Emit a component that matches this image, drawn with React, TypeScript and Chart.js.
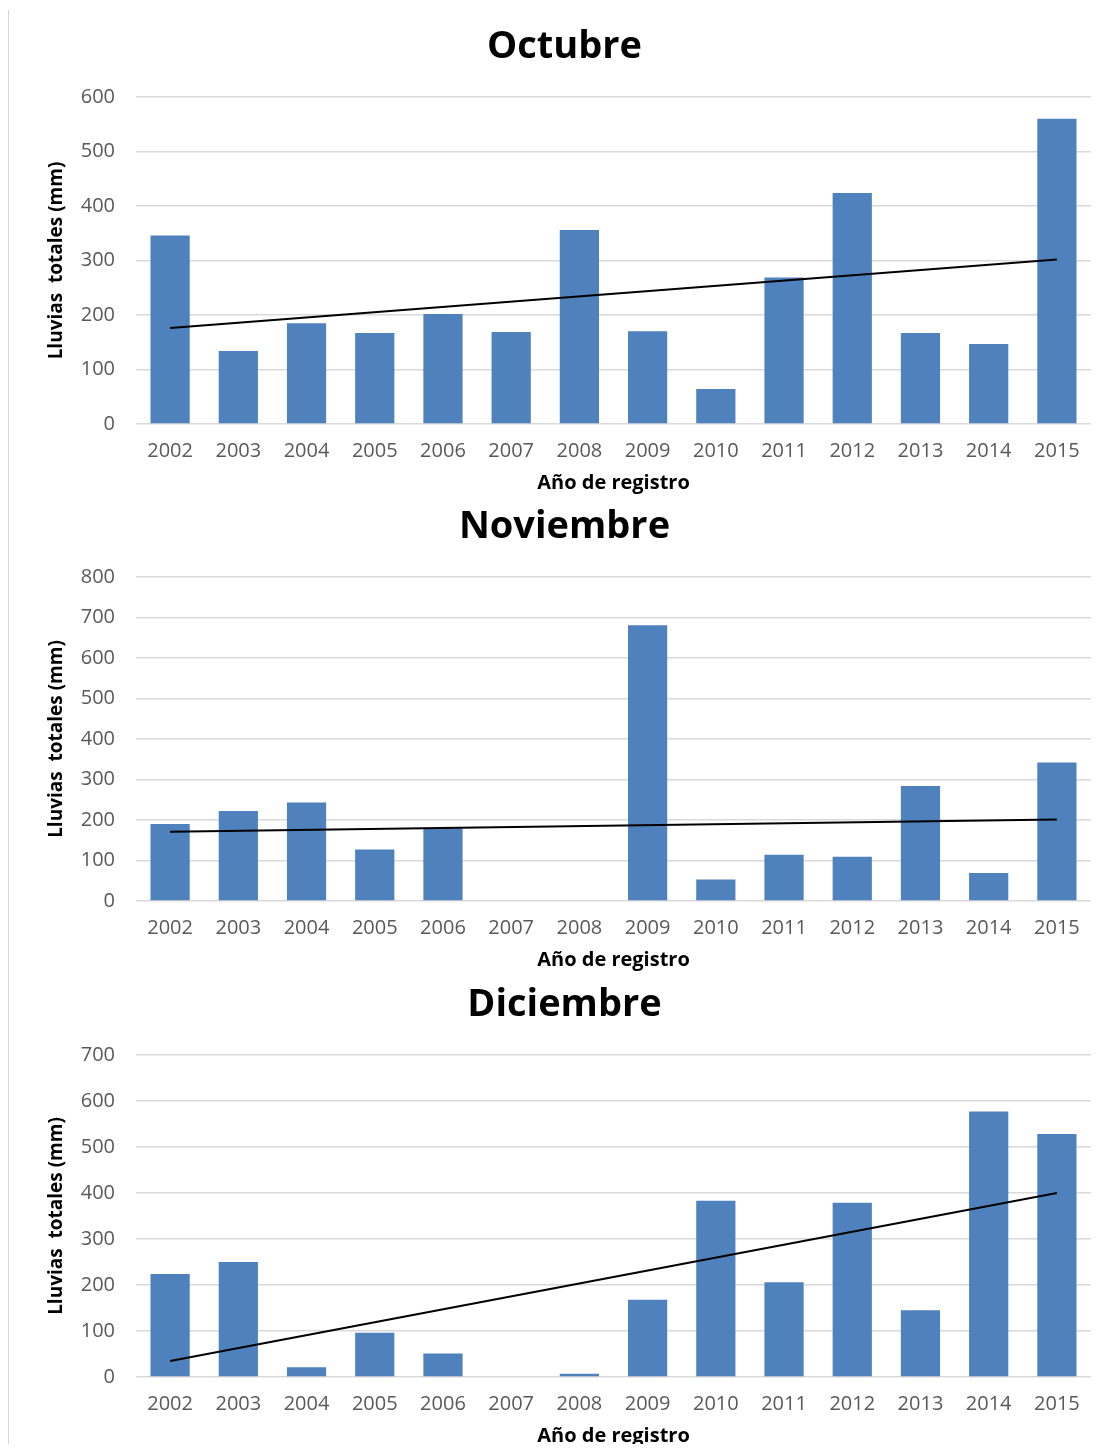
import React, { useEffect, useRef } from "react";
import { Chart, registerables } from "chart.js";

Chart.register(...registerables);

const years = ["2002", "2003", "2004", "2005", "2006", "2007", "2008", "2009", "2010", "2011", "2012", "2013", "2014", "2015"];

const octubreValues = [346, 134, 185, 167, 202, 169, 356, 170, 64, 269, 424, 167, 147, 560];
const noviembreValues = [190, 222, 243, 127, 179, 0, 0, 681, 53, 114, 109, 284, 69, 342];
const diciembreValues = [224, 250, 21, 96, 51, 0, 7, 168, 383, 206, 379, 145, 577, 528];

// Trendline values read at the first (2002) and last (2015) category
const octubreTrend = [176, 302];
const noviembreTrend = [171, 201];
const diciembreTrend = [35, 400];

const octubreMax = 600;
const noviembreMax = 800;
const diciembreMax = 700;
const yStep = 100;

const titles = ["Octubre", "Noviembre", "Diciembre"];
const xAxisTitle = "Año de registro";
const yAxisTitle = "Lluvias  totales (mm)";

const FONT = "'Open Sans', 'DejaVu Sans', sans-serif";
const BAR_COLOR = "#4F81BD";
const GRID_COLOR = "#D9D9D9";
const TICK_COLOR = "#595959";

type PanelProps = {
  title: string;
  values: number[];
  trend: number[];
  yMax: number;
  top: number;
  height: number;
};

function ChartPanel({ title, values, trend, yMax, top, height }: PanelProps) {
  const ref = useRef<HTMLCanvasElement | null>(null);

  useEffect(() => {
    if (!ref.current) return;
    const trendData: (number | null)[] = years.map((_, i) =>
      i === 0 ? trend[0] : i === years.length - 1 ? trend[1] : null
    );
    const chart = new Chart(ref.current, {
      type: "bar",
      data: {
        labels: years,
        datasets: [
          {
            type: "line",
            data: trendData,
            borderColor: "#000000",
            borderWidth: 2,
            pointRadius: 0,
            spanGaps: true,
            fill: false,
            order: 0,
          } as any,
          {
            type: "bar",
            data: values,
            backgroundColor: BAR_COLOR,
            barPercentage: 0.575,
            categoryPercentage: 1.0,
            order: 1,
          },
        ],
      },
      options: {
        animation: false,
        responsive: true,
        maintainAspectRatio: false,
        layout: { padding: { left: 30, right: 9, top: 0, bottom: 0 } },
        plugins: {
          legend: { display: false },
          tooltip: { enabled: false },
          title: {
            display: true,
            text: title,
            color: "#000000",
            font: { family: FONT, size: 38, weight: "bold", lineHeight: 1.2 },
            padding: { top: 16.2, bottom: 27.2 },
          },
        },
        scales: {
          x: {
            offset: true,
            grid: { display: false, drawTicks: false },
            border: { display: false },
            ticks: {
              color: TICK_COLOR,
              font: { family: FONT, size: 20 },
              padding: 15,
              maxRotation: 0,
              autoSkip: false,
            },
            title: {
              display: true,
              text: xAxisTitle,
              color: "#000000",
              font: { family: FONT, size: 20, weight: "bold", lineHeight: 1.2 },
              padding: { top: -7, bottom: 2 },
            },
          },
          y: {
            min: 0,
            max: yMax,
            grid: { color: GRID_COLOR, lineWidth: 1.5, drawTicks: false },
            border: { display: false },
            ticks: {
              stepSize: yStep,
              color: TICK_COLOR,
              font: { family: FONT, size: 20 },
              padding: 21,
            },
            title: {
              display: true,
              text: yAxisTitle,
              color: "#000000",
              font: { family: FONT, size: 19, weight: "bold", lineHeight: 1.2 },
              padding: { top: 7.6, bottom: -8.7 },
            },
          },
        },
      },
    });
    return () => chart.destroy();
  }, [title, values, trend, yMax]);

  return (
    <div style={{ position: "absolute", left: 0, right: 0, top, height }}>
      <canvas ref={ref} style={{ display: "block" }} />
    </div>
  );
}

export default function App() {
  return (
    <div style={{ position: "relative", width: "100%", height: 1436 }}>
      <div
        style={{
          position: "absolute",
          left: -1,
          top: 2,
          width: 2,
          height: 1434,
          background: "#D6D6D6",
        }}
      />
      <ChartPanel title={titles[0]} values={octubreValues} trend={octubreTrend} yMax={octubreMax} top={0} height={489} />
      <ChartPanel title={titles[1]} values={noviembreValues} trend={noviembreTrend} yMax={noviembreMax} top={480} height={486} />
      <ChartPanel title={titles[2]} values={diciembreValues} trend={diciembreTrend} yMax={diciembreMax} top={958} height={484} />
    </div>
  );
}
